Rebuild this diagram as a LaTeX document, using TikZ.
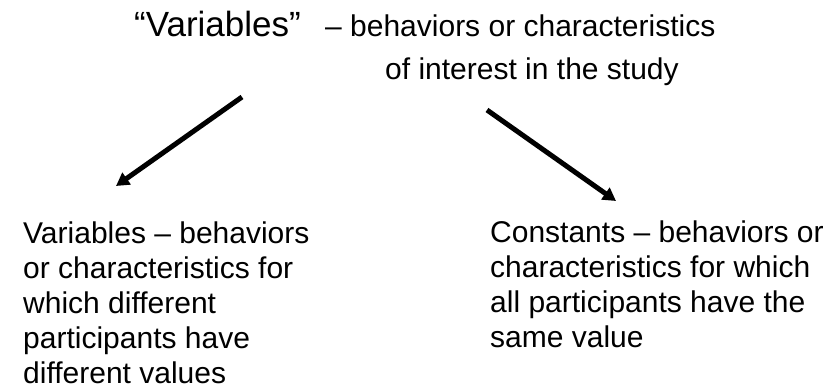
\documentclass[tikz,border=0pt]{standalone}
\usepackage{fontspec}
\setmainfont{Liberation Sans}
\usetikzlibrary{arrows.meta}
\begin{document}
\begin{tikzpicture}[x=1pt,y=-1pt,
  txt/.style={inner sep=0pt, anchor=base west, align=left},
  big/.style={font=\fontsize{35}{40}\selectfont},
  body/.style={font=\fontsize{30}{35}\selectfont},
  arr/.style={line width=5pt, -{Triangle[length=13pt,width=14pt]}}]
\useasboundingbox (0,0) rectangle (835,391);
\node[txt,big] (title) at (134,36) {“Variables”};
\node[txt,body] (sub1) at (325,36) {– behaviors or characteristics};
\node[txt,body] (sub2) at (385,79) {of interest in the study};
\node[txt,body] (left) at (23,383) {Variables – behaviors\\or characteristics for\\which different\\participants have\\different values};
\node[txt,body] (right) at (490,347) {Constants – behaviors or\\characteristics for which\\all participants have the\\same value};
\coordinate (ls) at (242,97);
\coordinate (le) at (116,186);
\coordinate (rs) at (487,110);
\coordinate (re) at (616,201);
\draw[arr] (ls) -- (le);
\draw[arr] (rs) -- (re);
\end{tikzpicture}
\end{document}
